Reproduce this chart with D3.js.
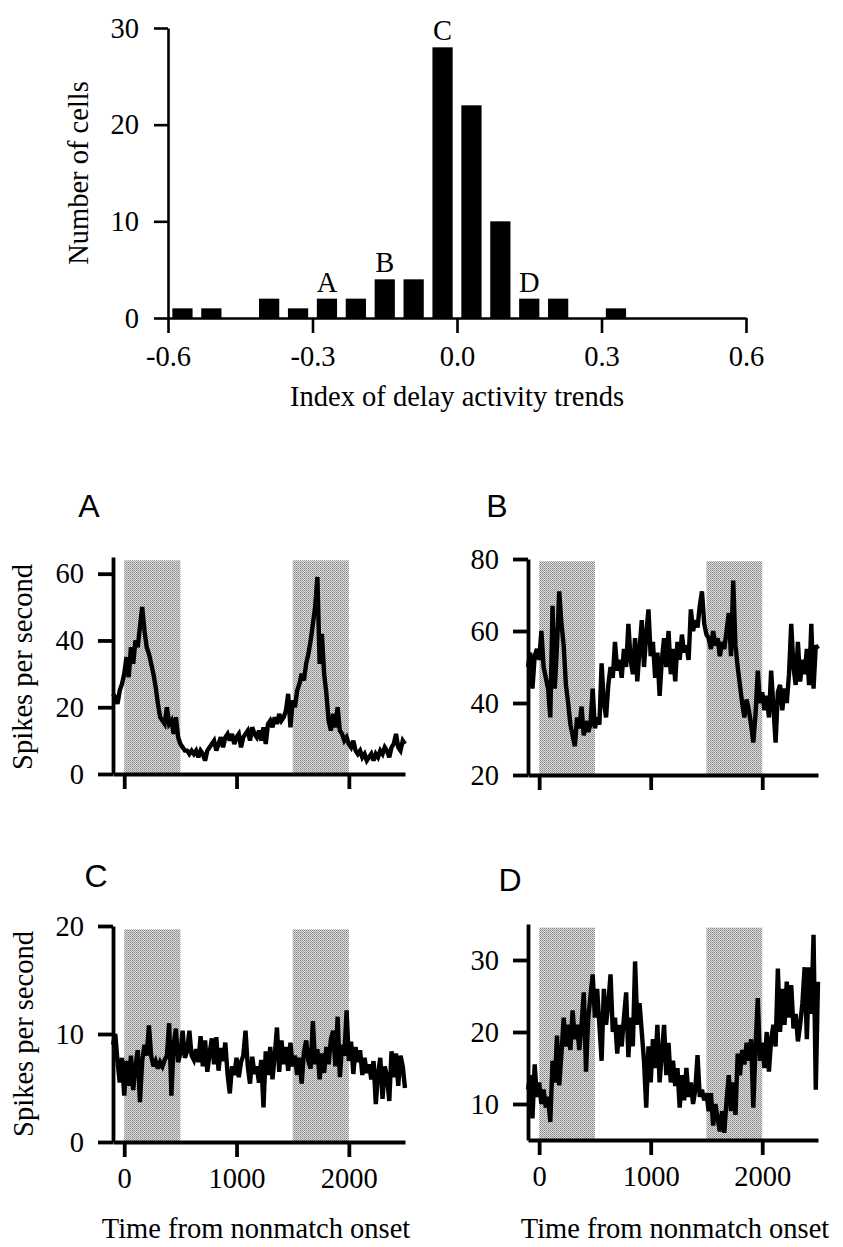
<!DOCTYPE html>
<html><head><meta charset="utf-8">
<script src="https://cdn.jsdelivr.net/npm/d3@7"></script>
<style>
body{margin:0;background:#fff}
svg{display:block;font-family:"Liberation Serif","Times New Roman",serif}
</style></head><body>
<svg id="c" width="843" height="1247"></svg>
<script>
// ---------------- DATA ----------------
// Histogram: bins of width 0.06 starting at -0.6
const histBinStart = -0.6;
const histBinWidth = 0.06;
const histCounts = [1, 1, 0, 2, 1, 2, 2, 4, 4, 28, 22, 10, 2, 2, 0, 1];
const histMarkBins = [5, 7, 9, 12];
const histMarkLabels = ["A", "B", "C", "D"];
const histXTicks = [-0.6, -0.3, 0, 0.3, 0.6];
const histYTicks = [0, 10, 20, 30];

// Spike-density traces, sampled every 20 ms from -100 to 2500 ms
const sampleStart = -100;
const sampleStep = 20;
const traceA = [
  24,23,21,25,27,30,35,29,38,33,
  40,38,44,50,43,38,36,33,30,26,
  21,17,16,15,20,15,16,12,17,11,
  9,8,7,7,6,7,6,7,5,7,
  6,4,7,8,9,10,7,9,11,8,
  11,12,10,12,9,11,12,8,11,12,
  13,10,14,12,11,13,10,14,9,15,
  16,14,17,15,18,16,17,19,24,14,
  22,20,25,27,30,28,33,36,40,45,
  50,59,33,42,30,24,16,13,18,14,
  20,13,12,10,11,9,8,10,7,6,
  7,5,6,4,5,6,4,6,5,7,
  6,8,7,5,8,9,12,8,7,10,
  9];
const traceB = [
  50,54,44,53,55,52,60,50,47,44,
  36,67,44,56,71,62,56,45,40,34,
  31,28,36,33,39,31,35,32,34,44,
  33,36,34,51,40,36,45,50,47,57,
  49,52,47,55,50,62,52,48,58,46,
  55,63,50,59,66,53,57,47,54,42,
  52,58,50,60,48,55,46,57,52,59,
  54,56,52,66,60,63,61,67,71,62,
  59,58,55,60,56,58,53,57,55,60,
  65,53,74,56,50,45,40,36,41,38,
  34,29,37,49,40,43,38,42,36,49,
  39,29,43,45,38,44,40,48,62,50,
  45,57,46,52,48,55,45,62,44,56,
  55];
const traceC = [
  9,10,7.5,5.5,7.8,4.3,7.5,5.2,8,4.8,
  7,8.5,3.7,7.5,9,8,10.8,8,7,7.5,
  6.8,7.4,7,7.6,8,11,4.3,9,10.5,7.4,
  8.2,10.3,7.8,8.4,10.3,8,7.6,8.6,7.4,9.8,
  7,9.4,6.5,8.2,9.6,7.2,9.7,6.6,8.7,7.5,
  9.2,6.3,4.5,7,6.2,7.8,6,7.4,8,10.3,
  7,5.4,7.9,6.3,7,5.5,7.6,3.2,8.4,6.2,
  8.8,5.8,8,10.6,6.5,9.4,7.2,8.8,6.6,9.2,
  7,8,6.2,7.8,5.4,8.3,9.4,7.5,6.8,11.2,
  7.2,8.6,5.8,8.2,6.4,8.8,7.2,9.5,10.3,7,
  11.6,6,9,8,12.2,7.5,9.3,6.3,8.8,7.4,
  8.5,6.2,7.8,6.4,7.2,5.8,7.5,3.5,6.4,7.8,
  4,7,6,3.8,8.4,6,8.2,5.2,8,7,
  5];
const traceD = [
  12,14,8,15.5,11,13,10,12,9.5,11,
  7.5,16,13,19.5,12.6,17,22,18,21,17.5,
  23,19,21,17.5,21,25.5,14.5,22,25,28,
  22,26,21,16,26,21,24,28,20,22,
  17,21,18,22,25.5,16.5,22,18,29.8,21,
  24,20,16,9.5,18,13,19,15,21,13,
  17,21,14,18.5,13,16,12.5,15,9.5,14,
  10.5,15,11,13,10,12,16.8,11,12,10.5,
  11.5,9,11.5,7,10,8,6.2,9,6,10.5,
  14,9,13,8.5,17,14,17.5,15.5,18.5,16,
  19,9.5,18,24.7,16,18.5,15,20,14.5,19,
  21,18,28.8,20,26,21,27,22,26.5,20.5,
  22.5,18.7,21,24,29,19,29,22.5,33.5,12,
  27];

// epochs shaded (ms)
const shadeStarts = [0, 1500];
const shadeEnds = [500, 2000];
const timeDomain = [-100, 2500];
const timeTicks = [0, 1000, 2000];

const yDomainA = [0, 65], yTicksA = [0, 20, 40, 60], shadeTopA = 64;
const yDomainB = [20, 80], yTicksB = [20, 40, 60, 80], shadeTopB = 79.4;
const yDomainC = [0, 20], yTicksC = [0, 10, 20], shadeTopC = 19.7;
const yDomainD = [5, 35], yTicksD = [10, 20, 30], shadeTopD = 34.5;

// ---------------- DRAWING ----------------
const svg = d3.select("#c");
const FS = 28.5;
const SERIF = "Liberation Serif, Times New Roman, serif";
const SANS = "Liberation Sans, Arial, sans-serif";

// Histogram
{
  const x = d3.scaleLinear().domain([-0.6, 0.6]).range([168, 746]);
  const y = d3.scaleLinear().domain([0, 30]).range([318, 28]);
  const g = svg.append("g");
  const bins = histCounts.map((c, i) => ({
    x0: histBinStart + i * histBinWidth,
    x1: histBinStart + (i + 1) * histBinWidth,
    c
  }));
  const inset = (x(histBinWidth) - x(0)) * 0.15;
  g.selectAll("rect.bar").data(bins.filter(b => b.c > 0)).join("rect")
    .attr("x", b => x(b.x0) + inset)
    .attr("width", b => x(b.x1) - x(b.x0) - 2 * inset)
    .attr("y", b => y(b.c))
    .attr("height", b => y(0) - y(b.c))
    .attr("fill", "#000");
  g.selectAll("text.mark").data(histMarkBins).join("text")
    .attr("x", (b) => x(histBinStart + (b + 0.5) * histBinWidth))
    .attr("y", (b) => y(histCounts[b]) - 7)
    .attr("text-anchor", "middle")
    .attr("font-size", FS).attr("font-family", SERIF)
    .text((b, i) => histMarkLabels[i]);

  const ax = g.append("g").attr("transform", `translate(0,${y(0)})`)
    .call(d3.axisBottom(x).tickValues(histXTicks).tickSize(15).tickSizeOuter(0).tickPadding(13)
      .tickFormat(d => (Math.abs(d) < 1e-9 ? 0 : d).toFixed(1)));
  const ay = g.append("g").attr("transform", `translate(${x(-0.6)},0)`)
    .call(d3.axisLeft(y).tickValues(histYTicks).tickSize(14).tickSizeOuter(0).tickPadding(15));
  [ax, ay].forEach(a => {
    a.selectAll("path,line").attr("stroke", "#000").attr("stroke-width", 2.6);
    a.selectAll("text").attr("font-size", FS).attr("font-family", SERIF).attr("fill", "#000");
  });
  g.append("text").attr("transform", "translate(88,173) rotate(-90)")
    .attr("text-anchor", "middle").attr("font-size", FS).attr("font-family", SERIF).text("Number of cells");
  g.append("text").attr("x", 457).attr("y", 406)
    .attr("text-anchor", "middle").attr("font-size", FS).attr("font-family", SERIF).text("Index of delay activity trends");
}

// dotted halftone pattern for shaded epochs
const defs = svg.append("defs");
const pat = defs.append("pattern").attr("id", "dots").attr("patternUnits", "userSpaceOnUse")
  .attr("width", 2).attr("height", 2);
pat.append("rect").attr("width", 2).attr("height", 2).attr("fill", "#dedede");
pat.append("rect").attr("width", 1).attr("height", 1).attr("fill", "#858585");
pat.append("rect").attr("x", 1).attr("y", 1).attr("width", 1).attr("height", 1).attr("fill", "#a0a0a0");

function drawPanel(cfg) {
  const g = svg.append("g");
  const x = d3.scaleLinear().domain(timeDomain).range(cfg.xr);
  const y = d3.scaleLinear().domain(cfg.yDomain).range(cfg.yr);
  // shaded epochs
  g.selectAll("rect.sh").data(shadeStarts).join("rect")
    .attr("x", (s) => x(s))
    .attr("width", (s, i) => x(shadeEnds[i]) - x(s))
    .attr("y", y(cfg.shadeTop))
    .attr("height", y(cfg.yDomain[0]) - y(cfg.shadeTop))
    .attr("fill", "url(#dots)");
  // trace
  const pts = cfg.values.map((v, i) => [sampleStart + i * sampleStep, v]);
  g.append("path").datum(pts)
    .attr("fill", "none").attr("stroke", "#000").attr("stroke-width", 4.4)
    .attr("stroke-linejoin", "miter").attr("stroke-miterlimit", 3)
    .attr("d", d3.line().x(d => x(d[0])).y(d => y(d[1])));
  // axes
  const ax = g.append("g").attr("transform", `translate(0,${y(cfg.yDomain[0])})`)
    .call(d3.axisBottom(x).tickValues(timeTicks).tickSize(15).tickSizeOuter(0).tickPadding(11)
      .tickFormat(cfg.xLabels ? d3.format("d") : () => ""));
  const ay = g.append("g").attr("transform", `translate(${x(timeDomain[0])},0)`)
    .call(d3.axisLeft(y).tickValues(cfg.yTicks).tickSize(15).tickSizeOuter(0).tickPadding(14));
  [ax, ay].forEach(a => {
    a.selectAll("path,line").attr("stroke", "#000").attr("stroke-width", 3.8);
    a.selectAll("text").attr("font-size", FS).attr("font-family", SERIF).attr("fill", "#000");
  });
  g.append("text").attr("x", cfg.letter[0]).attr("y", cfg.letter[1])
    .attr("text-anchor", "middle").attr("font-size", 32)
    .attr("font-family", SANS)
    .text(cfg.name);
  if (cfg.yTitle) {
    g.append("text").attr("transform", `translate(${cfg.yTitle[0]},${cfg.yTitle[1]}) rotate(-90)`)
      .attr("text-anchor", "middle").attr("font-size", FS).attr("font-family", SERIF).text("Spikes per second");
  }
  if (cfg.xTitle) {
    g.append("text").attr("x", cfg.xTitle[0]).attr("y", cfg.xTitle[1])
      .attr("text-anchor", "middle").attr("font-size", FS).attr("font-family", SERIF).text("Time from nonmatch onset");
  }
}

drawPanel({name: "A", values: traceA, yDomain: yDomainA, yTicks: yTicksA, shadeTop: shadeTopA,
  xr: [113, 405], yr: [774, 557], xLabels: false, letter: [89, 517], yTitle: [32, 667]});
drawPanel({name: "B", values: traceB, yDomain: yDomainB, yTicks: yTicksB, shadeTop: shadeTopB,
  xr: [528, 818], yr: [775, 559], xLabels: false, letter: [497, 517]});
drawPanel({name: "C", values: traceC, yDomain: yDomainC, yTicks: yTicksC, shadeTop: shadeTopC,
  xr: [113, 405], yr: [1142, 926], xLabels: true, letter: [96, 887], yTitle: [33, 1034], xTitle: [256, 1238]});
drawPanel({name: "D", values: traceD, yDomain: yDomainD, yTicks: yTicksD, shadeTop: shadeTopD,
  xr: [528, 818], yr: [1140, 924], xLabels: true, letter: [510, 891], xTitle: [675, 1238]});
</script>
</body></html>
